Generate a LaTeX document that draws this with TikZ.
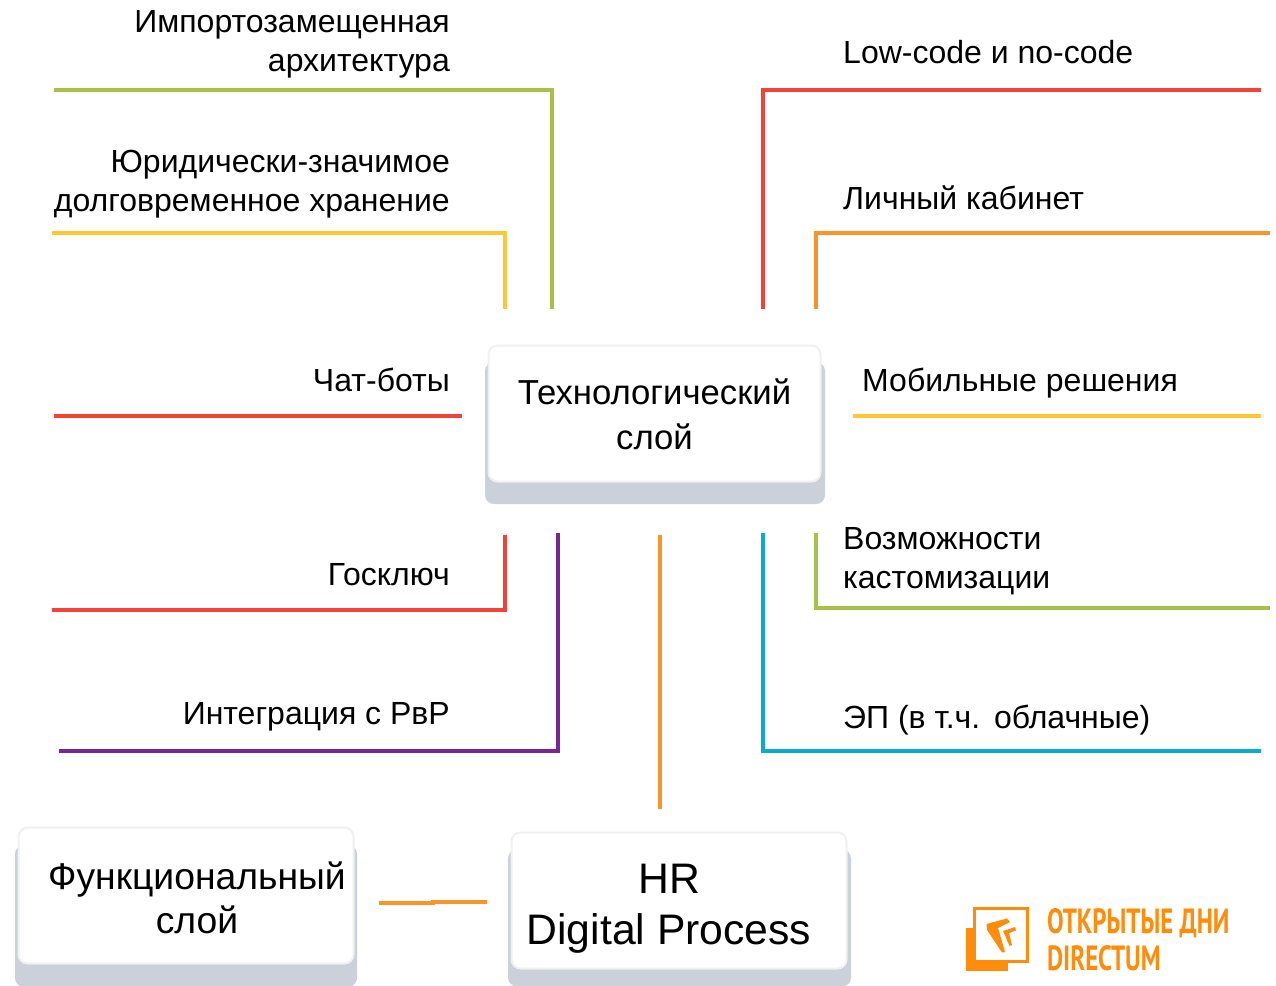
\documentclass[tikz,border=0pt]{standalone}
\usepackage{xcolor}
\usepackage{fontspec}
\setmainfont{Liberation Sans}
\newfontfamily\logofont{PT Sans}
\usetikzlibrary{positioning}
\definecolor{linered}{RGB}{244,67,54}
\definecolor{linegreen}{RGB}{166,193,68}
\definecolor{lineyellow}{RGB}{255,200,50}
\definecolor{lineorange}{RGB}{249,148,41}
\definecolor{linepurple}{RGB}{123,36,148}
\definecolor{linecyan}{RGB}{10,172,205}
\definecolor{shadowgray}{RGB}{203,208,218}
\definecolor{logoorange}{RGB}{255,140,10}

\begin{document}
\begin{tikzpicture}[
    x=1pt, y=-1pt,
    conn/.style={draw=#1, line width=4pt, line join=miter},
    layerback/.style={rectangle, fill=shadowgray, rounded corners=9pt, inner sep=0pt},
    layerfront/.style={rectangle, fill=white, draw=black!6, line width=2pt, rounded corners=9pt, inner sep=0pt},
    leftlabel/.style={anchor=base east, align=right, inner sep=0pt, font=\fontsize{32}{38.7}\selectfont},
    rightlabel/.style={anchor=base west, align=left, inner sep=0pt, font=\fontsize{32}{38.7}\selectfont},
    logotext/.style={anchor=base west, inner sep=0pt, text=logoorange, xscale=0.71,
                     font=\logofont\bfseries\fontsize{35}{35}\selectfont}
]
\useasboundingbox (0,0) rectangle (1276,985);

% Layer boxes, grey block first and then the white face
\node[layerback, minimum width=340pt, minimum height=142pt] (techback) at (655,433) {};
\node[layerfront, minimum width=332pt, minimum height=136pt] (techbox) at (654.5,413.5) {};
\node[align=center, font=\fontsize{34.7}{44.5}\selectfont] (techtext) at (654.5,414.5) {Технологический\\слой};

\node[layerback, minimum width=342pt, minimum height=142pt] (funcback) at (186,916) {};
\node[layerfront, minimum width=335pt, minimum height=136pt] (funcbox) at (186,895.5) {};
\node[align=center, font=\fontsize{37.3}{44}\selectfont] (functext) at (197,898) {Функциональный\\слой};

\node[layerback, minimum width=343pt, minimum height=137pt] (hrback) at (679.5,918) {};
\node[layerfront, minimum width=335pt, minimum height=136pt] (hrbox) at (679,900.5) {};
\node[align=center, font=\fontsize{42.7}{51}\selectfont] (hrtext) at (669,909) {HR\\Digital Process};

% Left side labels
\node[leftlabel] (importlabel) at (450,71.3) {Импортозамещенная\\архитектура};
\node[leftlabel] (storelabel) at (450,211.5) {Юридически-значимое\\долговременное хранение};
\node[leftlabel] (chatlabel) at (450,391) {Чат-боты};
\node[leftlabel] (keylabel) at (450,585) {Госключ};
\node[leftlabel] (rvrlabel) at (450,724) {Интеграция с РвР};

% Right side labels
\node[rightlabel] (codelabel) at (843,63) {Low-code и no-code};
\node[rightlabel] (cabinetlabel) at (843,209) {Личный кабинет};
\node[rightlabel] (mobilelabel) at (862,391) {Мобильные решения};
\node[rightlabel] (customlabel) at (843,588.3) {Возможности\\кастомизации};
\node[rightlabel] (signlabel) at (843,728) {ЭП (в т.ч.\hspace{2pt} облачные)};

% Line ends
\coordinate (importa) at (54,90);
\coordinate (importb) at (552,309);
\coordinate (storea) at (52,233);
\coordinate (storeb) at (505,309);
\coordinate (chata) at (54,416);
\coordinate (chatb) at (462,416);
\coordinate (keya) at (52,610);
\coordinate (keyb) at (505,535);
\coordinate (rvra) at (59,751);
\coordinate (rvrb) at (558,533);
\coordinate (codea) at (1261,90);
\coordinate (codeb) at (763,309);
\coordinate (cabineta) at (1269.5,233);
\coordinate (cabinetb) at (816,309);
\coordinate (mobilea) at (853,416);
\coordinate (mobileb) at (1261,416);
\coordinate (customa) at (1269.5,608);
\coordinate (customb) at (816,533);
\coordinate (signa) at (1261,751);
\coordinate (signb) at (763,533);
\coordinate (hrup) at (660,535);
\coordinate (hrdown) at (660,809);
\coordinate (funca) at (379,903);
\coordinate (funcm) at (433,902);
\coordinate (funcb) at (487,902);

% Connectors
\draw[conn=linegreen] (importa) -| (importb);
\draw[conn=lineyellow] (storea) -| (storeb);
\draw[conn=linered] (chata) -- (chatb);
\draw[conn=linered] (keya) -| (keyb);
\draw[conn=linepurple] (rvra) -| (rvrb);
\draw[conn=linered] (codea) -| (codeb);
\draw[conn=lineorange] (cabineta) -| (cabinetb);
\draw[conn=lineyellow] (mobilea) -- (mobileb);
\draw[conn=linegreen] (customa) -| (customb);
\draw[conn=linecyan] (signa) -| (signb);
\draw[conn=lineorange] (hrup) -- (hrdown);
\draw[conn=lineorange] (funca) -| (funcm) -- (funcb);

% Logo
\fill[logoorange] (966,928) rectangle (1008,971);
\draw[logoorange, fill=white, line width=3pt] (974.5,908.5) rectangle (1027.5,961.5);
\fill[logoorange] (986.5,924) -- (1007,918.5) -- (1010,922) -- (998,928) -- (1005,952) -- (1002,952.5) -- (987,930) -- cycle;
\fill[logoorange] (1003,931) -- (1015,927) -- (1016,930.5) -- (1009,933) -- (1012,945) -- (1009.5,946) -- cycle;
\node[logotext] (logotop) at (1047,933) {ОТКРЫТЫЕ ДНИ};
\node[logotext] (logobottom) at (1047,970) {DIRECTUM};

\end{tikzpicture}
\end{document}
